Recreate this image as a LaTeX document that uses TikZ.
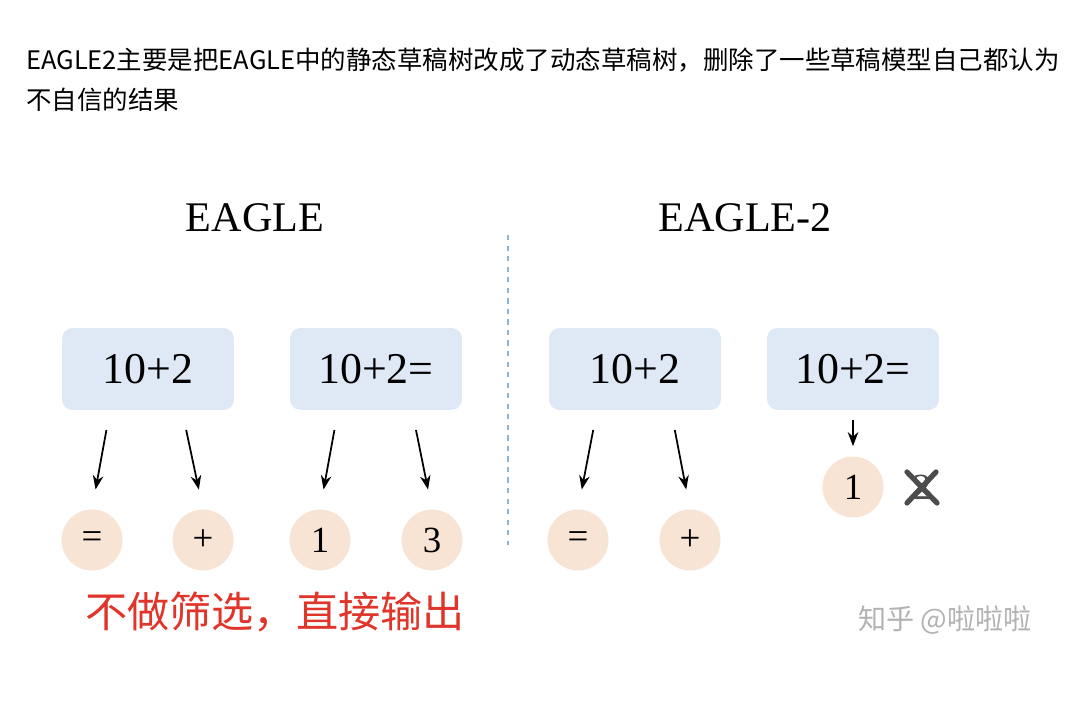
\documentclass[tikz,border=0pt]{standalone}
\usepackage{fontspec}
\setmainfont{Liberation Serif}
\newfontfamily\cjk{Noto Sans CJK SC}
\usetikzlibrary{calc,arrows.meta}
\definecolor{boxblue}{HTML}{DFE9F5}
\definecolor{tokpeach}{HTML}{F8E4D4}
\definecolor{notered}{HTML}{E0352B}
\definecolor{splitblue}{HTML}{8FB3D6}
\begin{document}
\begin{tikzpicture}[>={stealth}, x=0.02cm, y=-0.02cm,
    draft/.style={fill=boxblue, rounded corners=6pt, minimum width=3.44cm, minimum height=1.64cm, font=\fontsize{25}{25}\selectfont},
    tok/.style={circle, fill=tokpeach, minimum size=1.22cm, inner sep=0pt, font=\fontsize{21}{21}\selectfont},
    pick/.style={-{Stealth[length=8pt,width=6pt]}, line width=1pt, shorten <=0.4cm, shorten >=0.4cm}]
    \useasboundingbox (0,0) rectangle (1088,702);
    % header
    \node[anchor=west, font=\cjk\fontsize{14.5}{17}\selectfont] (h1) at (20,60) {EAGLE2主要是把EAGLE中的静态草稿树改成了动态草稿树，删除了一些草稿模型自己都认为};
    \node[anchor=west, font=\cjk\fontsize{14.5}{17}\selectfont] (h2) at (20,100) {不自信的结果};
    %
    \node[font=\fontsize{24}{24}\selectfont] (tA) at (255,218) {EAGLE};
    \node[font=\fontsize{24}{24}\selectfont] (tB) at (745,218) {EAGLE-2};
    \draw[dashed, line width=1pt, splitblue] (508,235) -- (508,545);
    % draft boxes
    \node[draft] (b1) at (148,369) {10+2};
    \node[draft] (b2) at (376,369) {10+2=};
    \node[draft] (b3) at (635,369) {10+2};
    \node[draft] (b4) at (853,369) {10+2=};
    % tokens
    \node[tok] (e1) at (92,540) {=};
    \node[tok] (p1) at (203,540) {+};
    \node[tok] (o1) at (320,540) {1};
    \node[tok] (t1) at (432,540) {3};
    \node[tok] (e2) at (578,540) {=};
    \node[tok] (p2) at (690,540) {+};
    \node[tok] (o2) at (853,487) {1};
    %
    \draw[pick] ($(b1.south)+(-38,0)$) -- (e1.north);
    \draw[pick] ($(b1.south)+(34,0)$) -- (p1.north);
    \draw[pick] ($(b2.south)+(-38,0)$) -- (o1.north);
    \draw[pick] ($(b2.south)+(36,0)$) -- (t1.north);
    \draw[pick] ($(b3.south)+(-38,0)$) -- (e2.north);
    \draw[pick] ($(b3.south)+(36,0)$) -- (p2.north);
    \draw[pick, shorten <=0.2cm, shorten >=0.2cm] (b4.south) -- (o2.north);
    % dropped token
    \node[font=\fontsize{21}{21}\selectfont, text=black!70] (x2) at (922,487) {2};
    \draw[line width=3pt, black!70, line cap=round] ($(x2)+(-15,-15)$) -- ($(x2)+(15,16)$);
    \draw[line width=3pt, black!70, line cap=round] ($(x2)+(-15,16)$) -- ($(x2)+(14,-15)$);
    %
    \node[font=\cjk\fontsize{24}{24}\selectfont, text=notered] (note) at (275,612) {不做筛选，直接输出};
    \node[font=\cjk\fontsize{16}{16}\selectfont, text=black!30] (wm) at (945,620) {知乎 @啦啦啦};
\end{tikzpicture}
\end{document}
